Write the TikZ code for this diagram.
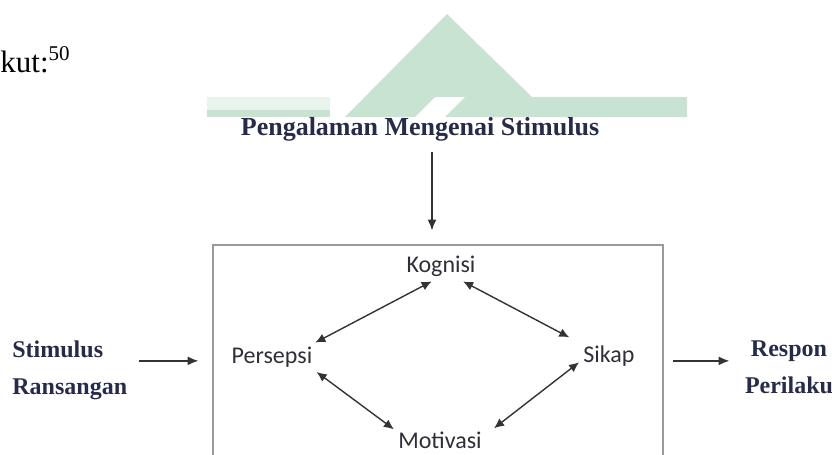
\documentclass[tikz,border=0pt]{standalone}
\usepackage{fontspec}
\setmainfont{Liberation Serif}
\newfontfamily\carlito{Carlito}
\usepackage{tikz}
\usetikzlibrary{arrows.meta,positioning,calc}
\definecolor{MarkGreen}{HTML}{C9E3D3}
\definecolor{FrameGrey}{HTML}{9A9A9A}
\definecolor{LabelInk}{HTML}{262B4A}
\definecolor{InnerInk}{HTML}{2E2F38}

\begin{document}
\begin{tikzpicture}[x=0.5pt,y=-0.5pt,
  side/.style={font=\fontsize{12}{18.5}\selectfont\bfseries,text=LabelInk,inner sep=0pt},
  part/.style={font=\carlito\fontsize{12}{14}\selectfont,text=InnerInk,text height=8pt,text depth=2.5pt,inner sep=2pt},
  frame/.style={draw=FrameGrey,line width=1.4pt,minimum width=225pt,minimum height=120pt,inner sep=0pt},
  arrow/.style={-{Latex[length=5.5pt,width=4.5pt]},line width=0.9pt,black!80},
  link/.style={{Latex[length=5pt,width=4.5pt]}-{Latex[length=5pt,width=4.5pt]},line width=0.7pt,black!80}]
  \useasboundingbox (0,0) rectangle (832,455);
  \clip (0,0) rectangle (832,455);
  % watermark behind the figure
  \fill[MarkGreen] (447,14) -- (345,117) -- (415,117) -- (435,97) -- (532,97) -- cycle;
  \fill[MarkGreen] (445,117) -- (465,97) -- (687,97) -- (687,117) -- cycle;
  \fill[MarkGreen!40] (207,97) rectangle (330,110);
  \fill[MarkGreen] (207,110) rectangle (330,117);
  \node[anchor=base west,inner sep=0pt,font=\fontsize{15.5}{18}\selectfont] (kut) at (0,73) {kut:\raisebox{6pt}{\fontsize{10.5}{12}\selectfont 50}};
  \node[side,font=\fontsize{13}{15}\selectfont\bfseries,anchor=base] (title) at (420,135) {Pengalaman Mengenai Stimulus};
  \node[frame] (frame) at (438,365) {};
  \node[part,anchor=base] (K) at (441,272) {Kognisi};
  \node[part,anchor=base] (P) at (272,363) {Persepsi};
  \node[part,anchor=base] (S) at (609,362) {Sikap};
  \node[part,anchor=base] (M) at (440,448) {Motivasi};
  \node[side,anchor=north west,align=left] (stim) at (12,340) {Stimulus\\Ransangan};
  \node[side,anchor=north,align=center] (resp) at (789,340) {Respon\\Perilaku};
  \coordinate (drop) at ([xshift=6pt]title.south);
  \coordinate (lvl) at ([yshift=4.5pt]stim.east);
  \draw[arrow,shorten <=5.5pt,shorten >=6.5pt] (drop) -- (drop |- frame.north);
  \draw[arrow,shorten <=5.5pt,shorten >=6.5pt] (lvl -| stim.east) -- (lvl -| frame.west);
  \draw[arrow,shorten <=4.5pt,shorten >=7.5pt] (lvl -| frame.east) -- (lvl -| resp.west);
  \draw[link] (K.238) -- (P.19);
  \draw[link,shorten >=5.5pt] (K.326) -- (S.155);
  \draw[link] (P.342) -- (M.164);
  \draw[link,shorten >=5pt] (S.191) -- (M.10);
\end{tikzpicture}
\end{document}
